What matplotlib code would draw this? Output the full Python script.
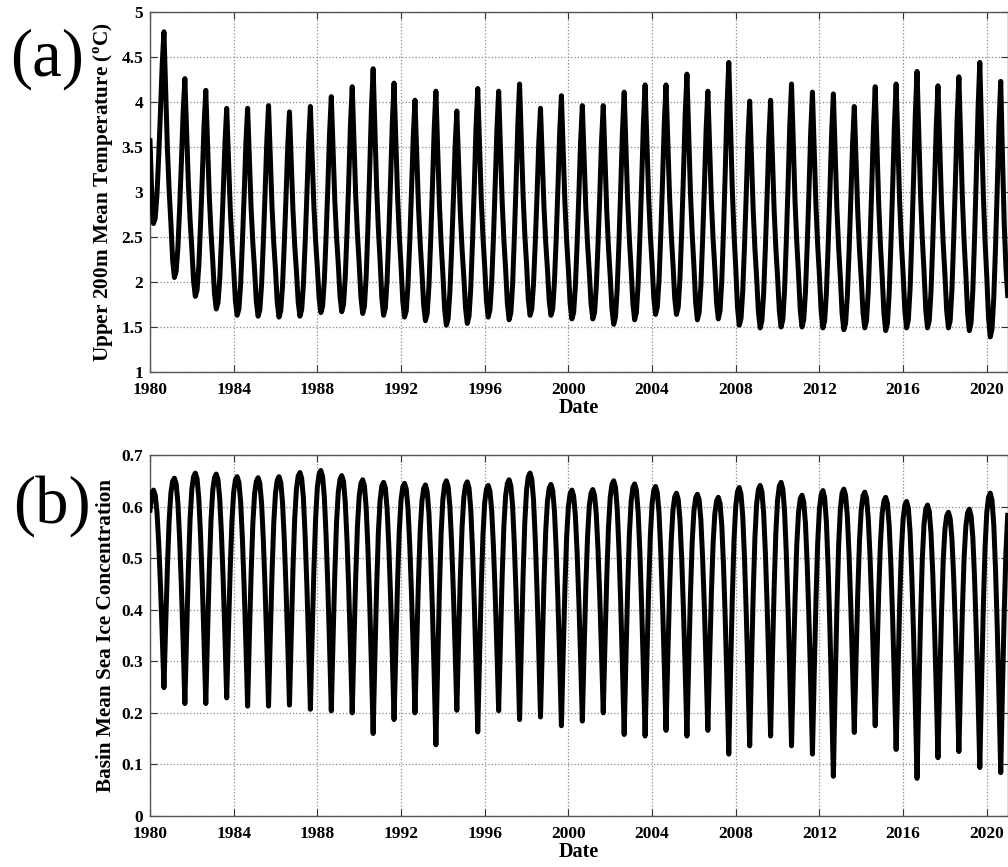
import numpy as np
import matplotlib
matplotlib.use('Agg')
import matplotlib.pyplot as plt
from matplotlib.ticker import FuncFormatter

plt.rcParams['font.family'] = ['Liberation Serif', 'DejaVu Serif']
plt.rcParams['font.weight'] = 'bold'
plt.rcParams['mathtext.fontset'] = 'custom'
plt.rcParams['mathtext.rm'] = 'Liberation Serif'
plt.rcParams['mathtext.bf'] = 'Liberation Serif:bold'

# ---------------- data (monthly, starting Jan 1980) ----------------
START_YEAR = 1980

temperature = [
    3.57, 2.98, 2.65, 2.71, 2.97, 3.40, 3.89, 4.42, 4.78, 4.12, 3.47, 3.01,  # 1980
    2.65, 2.24, 2.05, 2.12, 2.38, 2.82, 3.33, 3.88, 4.26, 3.68, 3.10, 2.69,  # 1981
    2.37, 2.01, 1.84, 1.91, 2.18, 2.64, 3.17, 3.74, 4.13, 3.55, 2.96, 2.55,  # 1982
    2.23, 1.87, 1.70, 1.77, 2.03, 2.48, 2.99, 3.55, 3.93, 3.38, 2.83, 2.44,  # 1983
    2.14, 1.79, 1.63, 1.70, 1.98, 2.44, 2.96, 3.54, 3.93, 3.38, 2.82, 2.43,  # 1984
    2.13, 1.78, 1.62, 1.69, 1.97, 2.44, 2.98, 3.56, 3.96, 3.40, 2.83, 2.43,  # 1985
    2.13, 1.77, 1.61, 1.68, 1.95, 2.41, 2.93, 3.50, 3.89, 3.35, 2.80, 2.41,  # 1986
    2.12, 1.78, 1.62, 1.69, 1.97, 2.44, 2.97, 3.55, 3.95, 3.40, 2.85, 2.46,  # 1987
    2.16, 1.82, 1.66, 1.73, 2.02, 2.50, 3.05, 3.65, 4.06, 3.49, 2.91, 2.51,  # 1988
    2.20, 1.84, 1.67, 1.75, 2.05, 2.55, 3.12, 3.75, 4.17, 3.57, 2.96, 2.53,  # 1989
    2.20, 1.83, 1.65, 1.73, 2.06, 2.60, 3.23, 3.91, 4.37, 3.71, 3.05, 2.59,  # 1990
    2.23, 1.82, 1.63, 1.71, 2.02, 2.53, 3.13, 3.77, 4.21, 3.59, 2.96, 2.52,  # 1991
    2.18, 1.79, 1.61, 1.68, 1.97, 2.45, 3.01, 3.61, 4.02, 3.43, 2.84, 2.43,  # 1992
    2.11, 1.74, 1.57, 1.65, 1.95, 2.46, 3.05, 3.69, 4.12, 3.50, 2.87, 2.43,  # 1993
    2.09, 1.70, 1.52, 1.59, 1.88, 2.35, 2.90, 3.50, 3.90, 3.33, 2.77, 2.37,  # 1994
    2.06, 1.71, 1.54, 1.62, 1.93, 2.45, 3.05, 3.71, 4.15, 3.54, 2.93, 2.50,  # 1995
    2.17, 1.79, 1.61, 1.69, 1.99, 2.49, 3.07, 3.69, 4.12, 3.51, 2.90, 2.47,  # 1996
    2.14, 1.76, 1.58, 1.66, 1.97, 2.50, 3.10, 3.75, 4.20, 3.58, 2.97, 2.53,  # 1997
    2.20, 1.81, 1.63, 1.70, 1.98, 2.44, 2.96, 3.54, 3.93, 3.38, 2.83, 2.44,  # 1998
    2.14, 1.79, 1.63, 1.70, 2.00, 2.48, 3.05, 3.66, 4.07, 3.47, 2.88, 2.46,  # 1999
    2.14, 1.76, 1.59, 1.66, 1.95, 2.42, 2.96, 3.56, 3.96, 3.39, 2.82, 2.42,  # 2000
    2.11, 1.76, 1.59, 1.66, 1.95, 2.42, 2.96, 3.56, 3.96, 3.38, 2.79, 2.38,  # 2001
    2.06, 1.70, 1.53, 1.61, 1.92, 2.43, 3.03, 3.67, 4.11, 3.50, 2.90, 2.47,  # 2002
    2.14, 1.76, 1.58, 1.66, 1.97, 2.49, 3.09, 3.75, 4.19, 3.58, 2.97, 2.53,  # 2003
    2.20, 1.82, 1.64, 1.72, 2.02, 2.53, 3.12, 3.76, 4.19, 3.58, 2.97, 2.53,  # 2004
    2.20, 1.82, 1.64, 1.72, 2.04, 2.57, 3.19, 3.86, 4.31, 3.65, 3.00, 2.54,  # 2005
    2.18, 1.77, 1.58, 1.66, 1.96, 2.47, 3.05, 3.69, 4.12, 3.51, 2.91, 2.48,  # 2006
    2.15, 1.77, 1.59, 1.68, 2.02, 2.59, 3.24, 3.96, 4.44, 3.74, 3.04, 2.54,  # 2007
    2.16, 1.72, 1.52, 1.59, 1.89, 2.39, 2.96, 3.59, 4.01, 3.41, 2.80, 2.37,  # 2008
    2.04, 1.67, 1.49, 1.57, 1.87, 2.38, 2.96, 3.59, 4.02, 3.42, 2.81, 2.38,  # 2009
    2.05, 1.68, 1.50, 1.58, 1.91, 2.45, 3.07, 3.74, 4.20, 3.55, 2.90, 2.45,  # 2010
    2.09, 1.69, 1.50, 1.58, 1.89, 2.41, 3.01, 3.67, 4.11, 3.48, 2.85, 2.41,  # 2011
    2.07, 1.67, 1.49, 1.57, 1.88, 2.40, 3.00, 3.65, 4.09, 3.46, 2.83, 2.39,  # 2012
    2.05, 1.65, 1.47, 1.54, 1.84, 2.34, 2.91, 3.53, 3.95, 3.36, 2.77, 2.35,  # 2013
    2.03, 1.66, 1.49, 1.57, 1.89, 2.43, 3.04, 3.71, 4.17, 3.52, 2.87, 2.41,  # 2014
    2.06, 1.65, 1.46, 1.54, 1.87, 2.42, 3.05, 3.73, 4.20, 3.55, 2.90, 2.44,  # 2015
    2.09, 1.68, 1.49, 1.58, 1.92, 2.49, 3.14, 3.86, 4.34, 3.66, 2.97, 2.49,  # 2016
    2.12, 1.69, 1.49, 1.57, 1.89, 2.43, 3.05, 3.72, 4.18, 3.53, 2.89, 2.43,  # 2017
    2.08, 1.68, 1.49, 1.57, 1.91, 2.47, 3.11, 3.81, 4.28, 3.60, 2.93, 2.45,  # 2018
    2.08, 1.66, 1.46, 1.55, 1.91, 2.50, 3.19, 3.93, 4.44, 3.71, 2.98, 2.46,  # 2019
    2.06, 1.60, 1.39, 1.48, 1.82, 2.38, 3.04, 3.75, 4.23, 3.40, 2.65, 2.15,  # 2020
    1.85,                                                                    # 2021
]

ice_concentration = [
    0.593, 0.625, 0.632, 0.622, 0.590, 0.529, 0.448, 0.352, 0.249, 0.371, 0.484, 0.574,  # 1980
    0.627, 0.649, 0.655, 0.644, 0.607, 0.537, 0.445, 0.336, 0.218, 0.352, 0.477, 0.576,  # 1981
    0.634, 0.658, 0.665, 0.654, 0.616, 0.544, 0.450, 0.339, 0.218, 0.352, 0.476, 0.574,  # 1982
    0.632, 0.656, 0.663, 0.652, 0.615, 0.546, 0.455, 0.346, 0.229, 0.358, 0.478, 0.572,  # 1983
    0.628, 0.652, 0.658, 0.647, 0.609, 0.538, 0.444, 0.333, 0.213, 0.346, 0.470, 0.567,  # 1984
    0.625, 0.649, 0.656, 0.645, 0.607, 0.536, 0.443, 0.333, 0.213, 0.347, 0.471, 0.569,  # 1985
    0.627, 0.651, 0.658, 0.647, 0.609, 0.538, 0.445, 0.335, 0.215, 0.350, 0.477, 0.576,  # 1986
    0.634, 0.659, 0.666, 0.655, 0.616, 0.542, 0.446, 0.331, 0.207, 0.346, 0.476, 0.577,  # 1987
    0.638, 0.663, 0.670, 0.658, 0.619, 0.544, 0.446, 0.330, 0.204, 0.341, 0.468, 0.569,  # 1988
    0.628, 0.653, 0.660, 0.649, 0.609, 0.536, 0.439, 0.324, 0.200, 0.336, 0.462, 0.562,  # 1989
    0.620, 0.645, 0.652, 0.640, 0.598, 0.519, 0.416, 0.293, 0.160, 0.306, 0.442, 0.550,  # 1990
    0.613, 0.640, 0.647, 0.636, 0.596, 0.523, 0.426, 0.311, 0.187, 0.324, 0.453, 0.553,  # 1991
    0.613, 0.638, 0.645, 0.634, 0.596, 0.525, 0.431, 0.320, 0.200, 0.333, 0.456, 0.554,  # 1992
    0.611, 0.635, 0.642, 0.629, 0.587, 0.506, 0.400, 0.274, 0.138, 0.292, 0.435, 0.548,  # 1993
    0.614, 0.642, 0.650, 0.639, 0.601, 0.530, 0.436, 0.325, 0.205, 0.338, 0.462, 0.559,  # 1994
    0.617, 0.641, 0.648, 0.636, 0.595, 0.517, 0.415, 0.294, 0.163, 0.306, 0.440, 0.545,  # 1995
    0.608, 0.634, 0.641, 0.630, 0.593, 0.523, 0.431, 0.322, 0.204, 0.338, 0.464, 0.562,  # 1996
    0.621, 0.645, 0.652, 0.640, 0.601, 0.526, 0.429, 0.313, 0.187, 0.330, 0.464, 0.569,  # 1997
    0.632, 0.658, 0.665, 0.653, 0.613, 0.537, 0.438, 0.320, 0.192, 0.327, 0.454, 0.553,  # 1998
    0.611, 0.636, 0.643, 0.631, 0.592, 0.517, 0.418, 0.301, 0.175, 0.312, 0.440, 0.541,  # 1999
    0.600, 0.625, 0.632, 0.621, 0.583, 0.511, 0.417, 0.305, 0.184, 0.319, 0.444, 0.543,  # 2000
    0.602, 0.626, 0.633, 0.622, 0.585, 0.516, 0.425, 0.317, 0.200, 0.335, 0.461, 0.560,  # 2001
    0.618, 0.643, 0.650, 0.638, 0.596, 0.517, 0.414, 0.291, 0.158, 0.304, 0.440, 0.547,  # 2002
    0.610, 0.637, 0.644, 0.632, 0.590, 0.512, 0.409, 0.287, 0.155, 0.300, 0.436, 0.542,  # 2003
    0.605, 0.632, 0.639, 0.627, 0.587, 0.511, 0.412, 0.294, 0.166, 0.304, 0.433, 0.534,  # 2004
    0.594, 0.619, 0.626, 0.614, 0.574, 0.499, 0.400, 0.282, 0.155, 0.296, 0.427, 0.530,  # 2005
    0.591, 0.617, 0.624, 0.613, 0.574, 0.500, 0.404, 0.290, 0.166, 0.302, 0.428, 0.528,  # 2006
    0.586, 0.611, 0.618, 0.606, 0.563, 0.484, 0.379, 0.254, 0.120, 0.275, 0.420, 0.534,  # 2007
    0.601, 0.629, 0.637, 0.624, 0.582, 0.502, 0.397, 0.271, 0.136, 0.288, 0.429, 0.540,  # 2008
    0.606, 0.633, 0.641, 0.629, 0.588, 0.510, 0.408, 0.286, 0.155, 0.303, 0.440, 0.549,  # 2009
    0.613, 0.640, 0.647, 0.634, 0.591, 0.509, 0.402, 0.274, 0.136, 0.282, 0.418, 0.525,  # 2010
    0.588, 0.615, 0.622, 0.609, 0.567, 0.486, 0.381, 0.256, 0.120, 0.273, 0.416, 0.529,  # 2011
    0.595, 0.623, 0.631, 0.617, 0.570, 0.481, 0.365, 0.227, 0.077, 0.244, 0.400, 0.523,  # 2012
    0.595, 0.626, 0.634, 0.622, 0.582, 0.507, 0.407, 0.289, 0.162, 0.302, 0.432, 0.535,  # 2013
    0.595, 0.621, 0.628, 0.617, 0.578, 0.506, 0.411, 0.297, 0.175, 0.308, 0.432, 0.529,  # 2014
    0.587, 0.611, 0.618, 0.606, 0.564, 0.486, 0.383, 0.261, 0.129, 0.273, 0.408, 0.514,  # 2015
    0.576, 0.603, 0.610, 0.597, 0.551, 0.465, 0.352, 0.218, 0.073, 0.232, 0.380, 0.497,  # 2016
    0.566, 0.595, 0.603, 0.591, 0.549, 0.471, 0.368, 0.245, 0.113, 0.256, 0.389, 0.494,  # 2017
    0.556, 0.582, 0.589, 0.577, 0.538, 0.464, 0.366, 0.250, 0.125, 0.266, 0.398, 0.501,  # 2018
    0.562, 0.588, 0.595, 0.582, 0.540, 0.460, 0.355, 0.229, 0.094, 0.254, 0.403, 0.520,  # 2019
    0.589, 0.618, 0.626, 0.612, 0.566, 0.480, 0.366, 0.230, 0.084, 0.245, 0.395, 0.513,  # 2020
    0.583,                                                                               # 2021
]

x_ticks = [1980, 1984, 1988, 1992, 1996, 2000, 2004, 2008, 2012, 2016, 2020]
temp_ticks = [1, 1.5, 2, 2.5, 3, 3.5, 4, 4.5, 5]
ice_ticks = [0, 0.1, 0.2, 0.3, 0.4, 0.5, 0.6, 0.7]

temp_label = r'Upper 200m Mean Temperature ($^{\mathbf{o}}$C)'
ice_label = 'Basin Mean Sea Ice Concentration'

# ---------------- figure ----------------
t_temp = START_YEAR + np.arange(len(temperature)) / 12.0
t_ice = START_YEAR + np.arange(len(ice_concentration)) / 12.0

W_PX, H_PX = 1008, 867
fig = plt.figure(figsize=(W_PX / 100, H_PX / 100), dpi=100)

left = 150 / W_PX
width = 857.7 / W_PX
ax1 = fig.add_axes([left, 1 - 372 / H_PX, width, 360 / H_PX])
ax2 = fig.add_axes([left, 1 - 816 / H_PX, width, 361 / H_PX])

fmt = FuncFormatter(lambda v, p: '%g' % v)


def style(ax, t, y, yticks, ylabel):
    ax.plot(t, y, color='black', linewidth=3.6, solid_joinstyle='round', zorder=3)
    ax.set_xlim(1980, 2021)
    ax.set_ylim(yticks[0], yticks[-1])
    ax.set_xticks(x_ticks)
    ax.set_yticks(yticks)
    ax.yaxis.set_major_formatter(fmt)
    ax.set_axisbelow(True)
    ax.grid(True, linestyle=':', color='#8a8a8a', linewidth=0.9)
    ax.tick_params(direction='in', length=5, width=0.8, top=True, right=True,
                   labelsize=12.5, colors='#333333', labelcolor='black')
    ax.tick_params(axis='x', pad=7.5)
    ax.tick_params(axis='y', pad=5)
    for s in ax.spines.values():
        s.set_color('#555555')
        s.set_linewidth(1.0)
    ax.set_xlabel('Date', fontsize=14.5, fontweight='bold', labelpad=0)
    ax.set_ylabel(ylabel, fontsize=15.3, fontweight='bold')
    ax.yaxis.set_label_coords(-0.040, 0.5)


style(ax1, t_temp, temperature, temp_ticks, temp_label)
style(ax2, t_ice, ice_concentration, ice_ticks, ice_label)

fig.text(47 / W_PX, 1 - 59 / H_PX, '(a)', fontsize=48, fontweight='normal',
         ha='center', va='center')
fig.text(52 / W_PX, 1 - 506 / H_PX, '(b)', fontsize=48, fontweight='normal',
         ha='center', va='center')

fig.savefig('out.png', dpi=100)
